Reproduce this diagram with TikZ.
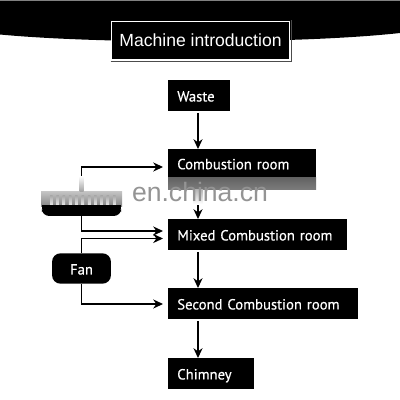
\documentclass[tikz,border=0pt]{standalone}
\usepackage{fontspec}
\setmainfont{Liberation Sans}
\newfontfamily\boxfont[FakeBold=0.4]{PT Sans}
\usetikzlibrary{arrows.meta}

\tikzset{
  boxtext/.style={text=white, font=\boxfont\fontsize{10.45}{13}\selectfont, text height=9.5pt, text depth=1pt},
  roombox/.style={boxtext, fill=black, anchor=north west,
    inner xsep=0.225cm, inner ysep=0pt, minimum height=0.76cm, align=left},
  flowline/.style={thick, -{Stealth[length=7pt,width=6.5pt]}},
}

\begin{document}
\begin{tikzpicture}[x=0.025cm, y=-0.025cm]
\useasboundingbox (0,0) rectangle (400,400);

% top band
\fill[black] (0,1) -- (400,1) -- (400,33) .. controls (300,44) and (100,44) .. (0,34.5) -- cycle;
\fill[gray] (0,0) rectangle (400,1);

\node[draw=white, fill=black, text=white, line width=0.7pt, outer sep=0pt, minimum width=4.45cm, minimum height=0.96cm,
  font=\fontsize{12.5}{15}\selectfont] (title) at (200.5,40.5) {Machine introduction};
\draw[black!70, line width=0.4pt] (110.5,60.8) -- (290.8,60.8) -- (290.8,20.5);

\node[roombox, text width=1.1cm] (waste) at (168,80) {Waste};
\node[roombox, text width=3.25cm, minimum height=0.7cm] (comb) at (168,149) {Combustion room};
\node[roombox, text width=4.02cm] (mixed) at (168,219) {Mixed Combustion room};
\node[roombox, text width=4.3cm] (second) at (168,288) {Second Combustion room};
\node[roombox, text width=1.68cm] (chimney) at (168,358) {Chimney};

\node[boxtext, fill=black, rounded corners=6pt, minimum width=1.47cm, minimum height=0.76cm, inner sep=0pt] (fan) at (81.5,268.5) {Fan};

% burner
\shade[top color=gray!45, bottom color=gray!95] (41,191) rectangle (122,206);
\foreach \i in {0,...,10} {
  \shade[top color=gray!70, bottom color=gray!15] ({50+\i*6.3},195) rectangle ({52.5+\i*6.3},206);
}
\node[fill=black, minimum width=1.98cm, minimum height=0.27cm, inner sep=0pt, rounded corners=5pt] (burner) at (81.5,210.5) {};
\fill[black] (42,205) rectangle (121,209);

\coordinate (burnertop) at (81.5,176);
\coordinate (mainx) at (198,0);
\coordinate (combin) at (163,167);
\coordinate (mixedup) at (163,231);
\coordinate (mixedlow) at (163,238.5);
\coordinate (secondin) at (163,304);

\draw[flowline] (burnertop) |- (combin);
\draw[flowline] (burner.south) |- (mixedup);
\draw[flowline] (fan.north) |- (mixedlow);
\draw[flowline] (fan.south) |- (secondin);

\draw[flowline] (waste.south -| mainx) ++(0,2) -- (comb.north -| mainx);
\draw[flowline] (comb.south -| mainx) -- (mixed.north -| mainx);
\draw[flowline] (mixed.south -| mainx) ++(0,2) -- (second.north -| mainx);
\draw[flowline] (second.south -| mainx) ++(0,2) -- (chimney.north -| mainx);

% watermark
\shade[top color=black!62, bottom color=black!52] (168,177) rectangle (316,189);
\shade[top color=white!40!gray, bottom color=white] (193,189) rectangle (203,204);
\shade[top color=white, bottom color=gray!70] (79.5,176) rectangle (83.5,191);
\node[text=black!42, font=\fontsize{18.9}{22}\selectfont, inner sep=0pt] (mark) at (200,192) {en.china.cn};
\end{tikzpicture}
\end{document}
